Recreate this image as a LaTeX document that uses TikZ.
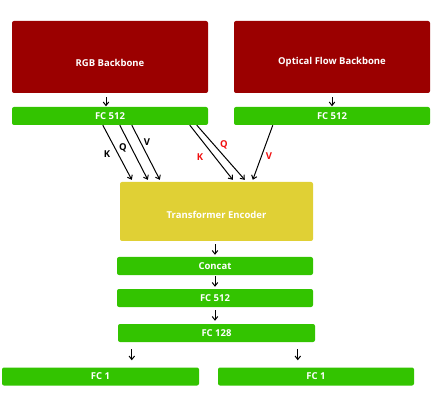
\documentclass[tikz,border=0pt]{standalone}
\usepackage{fontspec}
\setmainfont{Open Sans}
\usetikzlibrary{arrows.meta,calc}
\definecolor{bbred}{HTML}{9B0000}
\definecolor{fcgreen}{HTML}{33C400}
\definecolor{encyellow}{HTML}{E0D035}
\definecolor{lblred}{HTML}{F01010}
\begin{document}
\begin{tikzpicture}[x=1pt,y=-1pt,
  txt/.style={text=white,font=\fontsize{9.5}{10}\selectfont\bfseries},
  box/.style={rounded corners=2pt,inner sep=0pt,txt},
  bb/.style={box,fill=bbred,minimum width=196pt,minimum height=72pt},
  fc/.style={box,fill=fcgreen,minimum height=18pt},
  enc/.style={box,fill=encyellow,minimum width=193pt,minimum height=59pt},
  arr/.style={-{Straight Barb[length=3.5pt,width=5.5pt]},line width=1pt,black},
  lbl/.style={font=\fontsize{9.5}{10}\selectfont\bfseries,inner sep=0pt}]
\useasboundingbox (0,0) rectangle (436,403);
\node[bb,label={[txt,yshift=-6pt]center:RGB Backbone}] (rgb) at (110,57) {};
\node[bb,label={[txt,yshift=-5pt]center:Optical Flow Backbone}] (of) at (332,57) {};
\node[fc,minimum width=196pt] (fcl) at (110,116) {FC 512};
\node[fc,minimum width=196pt] (fcr) at (332,116) {FC 512};
\node[enc,label={[txt,yshift=-3pt]center:Transformer Encoder}] (enc) at (216.5,211.5) {};
\node[fc,minimum width=196pt] (cat) at (215,266) {Concat};
\node[fc,minimum width=196pt] (fcm) at (215,298) {FC 512};
\node[fc,minimum width=197pt] (fc128) at (216.5,333) {FC 128};
\node[fc,minimum width=197pt] (fc1l) at (100.5,376.5) {FC 1};
\node[fc,minimum width=196pt] (fc1r) at (316,376.5) {FC 1};
% short arrows
\draw[arr] ([xshift=-4pt,yshift=-4pt]rgb.south) -- ([xshift=-4pt,yshift=0.5pt]fcl.north);
\draw[arr] ([yshift=-4pt]of.south) -- ([yshift=0.5pt]fcr.north);
\draw[arr] ([xshift=-1.5pt,yshift=-3pt]enc.south) -- ([yshift=2pt]cat.north);
\draw[arr] ([yshift=-1pt]cat.south) -- ([yshift=2pt]fcm.north);
\draw[arr] ([yshift=-3pt]fcm.south) -- ([xshift=-1.5pt,yshift=3pt]fc128.north);
\draw[arr] ([xshift=14pt,yshift=-7pt]fc128.south west) -- ([xshift=130pt,yshift=7pt]fc1l.north west);
\draw[arr] ([xshift=180pt,yshift=-7pt]fc128.south west) -- ([xshift=80pt,yshift=7pt]fc1r.north west);
% K Q V
\draw[arr] ([xshift=91pt]fcl.south west) -- ([xshift=12pt,yshift=2pt]enc.north west);
\draw[arr] ([xshift=108pt]fcl.south west) -- ([xshift=28pt,yshift=2pt]enc.north west);
\draw[arr] ([xshift=120pt]fcl.south west) -- ([xshift=40pt,yshift=2pt]enc.north west);
\draw[arr] ([xshift=178pt]fcl.south west) -- ([xshift=113pt,yshift=2pt]enc.north west);
\draw[arr] ([xshift=185pt]fcl.south west) -- ([xshift=125pt,yshift=2pt]enc.north west);
\draw[arr] ([xshift=39pt]fcr.south west) -- ([xshift=133pt,yshift=2pt]enc.north west);
\node[lbl] (k1) at (107,154) {K};
\node[lbl] (q1) at (123,148) {Q};
\node[lbl] (v1) at (147,142) {V};
\node[lbl,text=lblred] (k2) at (200,157) {K};
\node[lbl,text=lblred] (q2) at (224,145) {Q};
\node[lbl,text=lblred] (v2) at (269,156) {V};
\end{tikzpicture}
\end{document}
